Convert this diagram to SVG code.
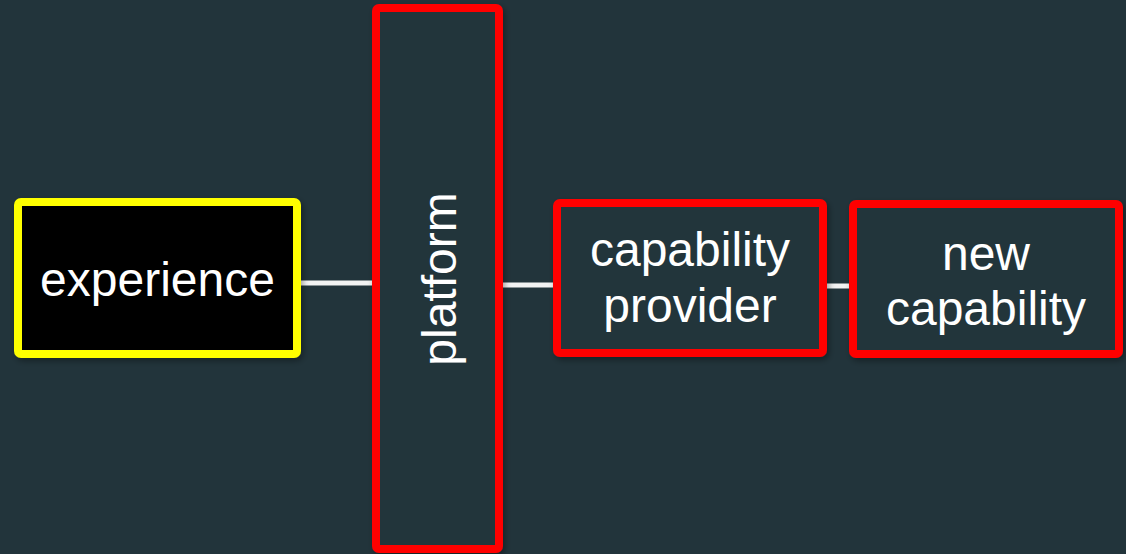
<svg xmlns="http://www.w3.org/2000/svg" width="1126" height="554" viewBox="0 0 1126 554">
  <defs>
    <filter id="shadow" x="-10%" y="-10%" width="130%" height="130%">
      <feDropShadow dx="2" dy="3" stdDeviation="3" flood-color="#000" flood-opacity="0.35"/>
    </filter>
    <style>
      .box { stroke-width: 8; stroke-linejoin: round; filter: url(#shadow); }
      .red { fill: #22343b; stroke: #ff0000; }
      .label { font-family: "Liberation Sans", Arial, sans-serif; font-size: 48px; fill: #ffffff; text-anchor: middle; }
      .link { stroke: #f2f2f2; stroke-width: 5; fill: none; }
    </style>
  </defs>

  <rect width="1126" height="554" fill="#22343b"/>

  <!-- connectors -->
  <g id="connectors">
    <line class="link" x1="301" y1="283" x2="376" y2="283"/>
    <line class="link" x1="503" y1="285" x2="557" y2="285"/>
    <line class="link" x1="827" y1="286" x2="853" y2="286"/>
  </g>

  <g id="experience">
    <rect class="box" x="18" y="202" width="279" height="152" rx="3" fill="#000000" stroke="#ffff00"/>
    <text class="label" x="157.5" y="296">experience</text>
  </g>

  <g id="platform">
    <rect class="box red" x="376" y="8" width="123" height="541" rx="3"/>
    <text class="label" transform="translate(456 279) rotate(-90)" x="0" y="0">platform</text>
  </g>

  <g id="capability-provider">
    <rect class="box red" x="557" y="203" width="266" height="150" rx="3"/>
    <text class="label" x="690" y="266">capability</text>
    <text class="label" x="690" y="322">provider</text>
  </g>

  <g id="new-capability">
    <rect class="box red" x="853" y="204" width="266" height="150" rx="3"/>
    <text class="label" x="986" y="270">new</text>
    <text class="label" x="986" y="325">capability</text>
  </g>
</svg>
